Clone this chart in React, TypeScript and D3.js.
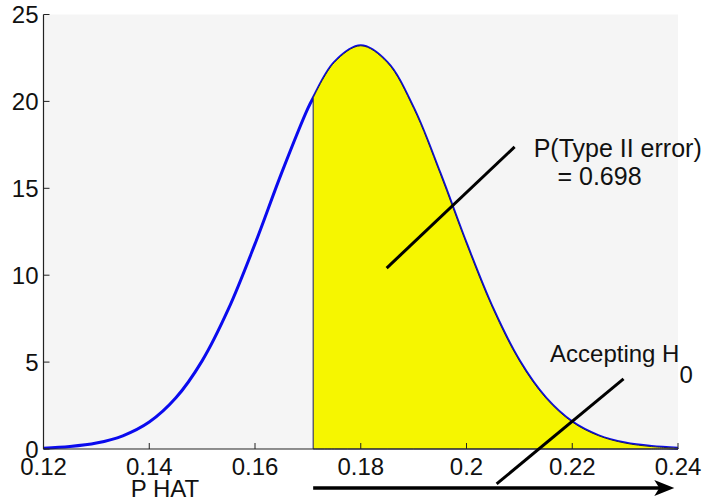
import { useEffect, useRef } from "react";
import * as d3 from "d3";

const pHat = [0.12, 0.125, 0.13, 0.135, 0.14, 0.145, 0.15, 0.155, 0.16, 0.165, 0.17, 0.171, 0.175, 0.18, 0.185, 0.19, 0.195, 0.2, 0.205, 0.21, 0.215, 0.22, 0.225, 0.23, 0.235, 0.24];
const density = [0.05, 0.14, 0.34, 0.76, 1.55, 2.93, 5.07, 8.07, 11.8, 15.86, 19.6, 20.2, 22.24, 23.2, 22.24, 19.6, 15.86, 11.8, 8.07, 5.07, 2.93, 1.55, 0.76, 0.34, 0.14, 0.05];

const cutoff = 0.171;
const xTicks = [0.12, 0.14, 0.16, 0.18, 0.2, 0.22, 0.24];
const yTicks = [0, 5, 10, 15, 20, 25];
const xLabel = "P HAT";
const typeIILabel = ["P(Type II error)", "= 0.698"];

export default function App() {
  const svgRef = useRef<SVGSVGElement>(null);

  useEffect(() => {
    if (!svgRef.current) return;
    const svg = d3.select(svgRef.current);
    svg.selectAll("*").remove();

    const width = 703;
    const height = 501;
    const left = 43.5, right = 678, top = 14.5, bottom = 449;
    const font = "Liberation Sans, Arial, Helvetica, sans-serif";

    const x = d3.scaleLinear().domain([0.12, 0.24]).range([left, right]);
    const y = d3.scaleLinear().domain([0, 25]).range([bottom, top]);

    svg.attr("width", width).attr("height", height).style("background", "white");

    const label = (tx: number, ty: number, s: string, anchor = "start", size = 24) =>
      svg.append("text")
        .attr("x", tx).attr("y", ty)
        .attr("text-anchor", anchor)
        .attr("font-family", font).attr("font-size", size)
        .attr("fill", "#111")
        .text(s);

    // ── plot background ─────────────────────────────
    svg.append("rect")
      .attr("x", left).attr("y", top)
      .attr("width", right - left).attr("height", bottom - top)
      .attr("fill", "#f5f5f5");

    const pts = pHat.map((p, i) => ({ p, d: density[i] }));

    // ── curve ───────────────────────────────────────
    const line = d3.line<{ p: number; d: number }>()
      .x((d) => x(d.p)).y((d) => y(d.d))
      .curve(d3.curveCatmullRom);

    svg.append("path")
      .attr("d", line(pts))
      .attr("fill", "none")
      .attr("stroke", "#0a0aee")
      .attr("stroke-width", 3);

    // ── shaded region (beta) ────────────────────────
    const tail = pts.filter((d) => d.p >= cutoff);
    const area = d3.area<{ p: number; d: number }>()
      .x((d) => x(d.p)).y0(y(0)).y1((d) => y(d.d))
      .curve(d3.curveCatmullRom);
    svg.append("path")
      .attr("d", area(tail))
      .attr("fill", "#f6f600")
      .attr("stroke", "#1a1a6a")
      .attr("stroke-width", 1);

    // ── axes ────────────────────────────────────────
    svg.append("line")
      .attr("x1", left).attr("x2", left).attr("y1", top).attr("y2", bottom)
      .attr("stroke", "#222").attr("stroke-width", 1.2);
    svg.append("line")
      .attr("x1", left).attr("x2", right).attr("y1", bottom).attr("y2", bottom)
      .attr("stroke", "#222").attr("stroke-width", 1.2);

    xTicks.forEach((t) => {
      svg.append("line")
        .attr("x1", x(t)).attr("x2", x(t)).attr("y1", bottom).attr("y2", bottom - 6)
        .attr("stroke", "#222");
      label(x(t), 475, String(t), "middle");
    });

    yTicks.forEach((t) => {
      svg.append("line")
        .attr("x1", left).attr("x2", left + 6).attr("y1", y(t)).attr("y2", y(t))
        .attr("stroke", "#222");
      label(38.5, y(t) + 8.5, String(t), "end");
    });

    label(x(0.1365), 497, xLabel);

    // ── annotations ─────────────────────────────────
    svg.append("line")
      .attr("x1", x(0.1849)).attr("y1", y(10.41))
      .attr("x2", x(0.2091)).attr("y2", y(17.38))
      .attr("stroke", "#000").attr("stroke-width", 3);
    label(x(0.2127), 157, typeIILabel[0], "start", 25);
    label(x(0.2172), 185, typeIILabel[1], "start", 25);

    svg.append("line")
      .attr("x1", x(0.2057)).attr("y1", y(-2.01))
      .attr("x2", x(0.2297)).attr("y2", y(4.03))
      .attr("stroke", "#000").attr("stroke-width", 3);
    const acc = label(x(0.2158), 362, "");
    acc.append("tspan").text("Accepting H");
    acc.append("tspan").attr("dy", 21).text("0");

    // ── acceptance-region arrow ─────────────────────
    const ay = 488;
    const x0 = x(cutoff), x1 = x(0.2393);
    svg.append("line")
      .attr("x1", x0).attr("x2", x1 - 10).attr("y1", ay).attr("y2", ay)
      .attr("stroke", "#000").attr("stroke-width", 3.5);
    svg.append("path")
      .attr("d", `M${x1},${ay} L${x1 - 20},${ay - 8} L${x1 - 15},${ay} L${x1 - 20},${ay + 8} Z`)
      .attr("fill", "#000");
  }, []);

  return (
    <svg ref={svgRef} style={{ position: "absolute", left: 0, top: 0 }} />
  );
}
